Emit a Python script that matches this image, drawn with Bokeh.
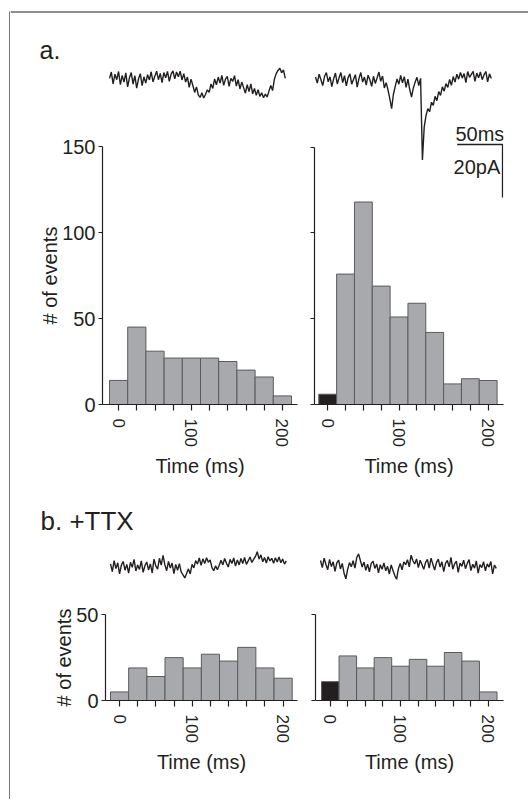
from bokeh.plotting import figure
from bokeh.models import Range1d, FixedTicker, ColumnDataSource
from bokeh.layouts import row, column
from bokeh.embed import file_html
from bokeh.resources import INLINE
from bokeh.core.properties import value

FONT = "Liberation Sans"
INK = "#231f20"
BAR_FILL = "#a7a9ac"
BAR_LINE = "#5a5b5d"

# ---------------- data ----------------
bin_index = list(range(10))
x_tick_labels = ["0", "", "", "", "100", "", "", "", "", "200"]
y_ticks_a = [0, 50, 100, 150]
y_ticks_b = [0, 50]

counts_a_spont = [14, 45, 31, 27, 27, 27, 25, 20, 16, 5]
counts_a_evoked = [6, 76, 118, 69, 51, 59, 42, 12, 15, 14]
counts_b_spont = [5, 19, 14, 25, 19, 27, 23, 31, 19, 13]
counts_b_evoked = [11, 26, 19, 25, 20, 24, 20, 28, 23, 5]

trace_t_ms = list(range(0, 196, 2))
trace_a_spont = [
    0.8, 3.2, -1.3, 2.4, 0.3, 3.4, -1.6, 1.9, -0.6, 2.9,
    -2.4, 1.0, 3.0, -1.4, 1.8, -2.9, 0.6, 2.6, -1.9, 1.4,
    -1.0, 2.2, 0.2, 3.3, -0.5, 1.6, 3.5, 0.3, 2.7, -0.8,
    3.0, 1.0, 3.4, -0.3, 2.4, 3.6, 0.6, 3.2, 1.4, 3.5,
    0.2, 2.6, -0.6, 1.3, -2.6, 0.5, -1.9, -4.5, -2.4, -5.4,
    -6.4, -4.6, -6.6, -5.2, -3.5, -4.5, -1.3, -3.0, 0.6, -1.6,
    1.3, -1.0, 1.9, -1.8, 0.5, 1.6, -2.2, 0.8, -0.3, 1.8,
    -2.1, 0.3, -3.2, -0.6, -2.7, -4.8, -1.6, -4.2, -1.3, -5.0,
    -3.0, -5.6, -3.5, -6.0, -4.6, -6.5, -5.1, -6.2, -4.0, -1.9,
    -3.8, 0.5, 2.6, 3.8, 4.6, 2.9, 4.0, 0.8]
trace_a_evoked = [
    1.3, -1.0, 2.4, 0.3, -1.9, 1.6, 3.0, -0.5, 1.4, -2.3,
    0.6, 2.8, -1.3, 1.0, 3.0, -0.8, 1.8, -2.0, 1.1, 2.5,
    -1.4, 0.5, 2.2, -2.5, 0.8, 3.0, -0.6, 1.3, -1.7, 2.0,
    0.3, -2.2, 1.6, -1.1, 1.0, 3.2, -0.3, 1.7, -2.8, -0.8,
    -3.5, -6.8, -10.6, -5.2, -2.2, 0.6, -1.4, 1.9, -0.9, 1.4,
    -2.6, 0.5, -3.4, -6.3, -2.8, -0.6, 1.2, -1.9, 0.8, -30.0,
    -17.5, -13.2, -10.6, -11.8, -8.2, -9.4, -6.0, -7.6, -4.2, -5.6,
    -2.4, -4.0, -1.2, -2.6, 0.4, -1.8, 1.5, -0.6, 2.4, 0.5,
    3.0, 0.9, 2.6, -0.8, 3.4, 1.2, 2.3, 3.4, -0.3, 2.8,
    1.0, 3.2, 0.3, 2.1, 3.4, -0.5, 2.5, 0.8]
trace_b_spont = [
    1.0, -1.9, 2.2, -0.8, 1.4, -2.8, 0.5, 1.9, -1.4, 0.8,
    -2.5, 1.6, -0.3, 2.7, -1.7, 0.6, -1.1, 2.1, -2.2, 0.3,
    1.7, -1.3, 1.0, -2.4, 2.8, 0.2, -1.0, 3.1, 0.5, 4.2,
    0.6, -1.6, 1.9, -0.6, 1.3, -2.7, 0.8, -1.4, 1.1, -2.0,
    -3.2, -4.3, -2.6, -0.9, -2.8, 0.8, -0.5, 2.2, 0.9, 3.2,
    0.4, 2.9, 1.1, 3.3, 1.6, 2.5, -0.4, -1.6, 0.3, -1.2,
    0.5, 2.4, 0.6, 3.0, 1.2, -0.2, 2.7, 1.1, 3.2, 0.2,
    2.5, 0.6, 3.0, 1.1, 3.4, 0.8, 2.1, 3.6, 1.5, 2.7,
    3.8, 5.6, 2.8, 4.4, 1.8, 3.4, 1.3, 3.7, 2.1, 3.1,
    1.2, 3.3, 1.7, 3.6, 1.4, 2.8, 0.9, 2.1]
trace_b_evoked = [
    1.9, -0.8, 2.8, 0.4, -1.6, 2.3, -0.4, 1.4, -2.2, 1.0,
    2.0, -1.3, 0.8, -2.9, -5.0, -1.4, 1.1, -0.5, 1.8, -1.0,
    3.0, 4.4, 1.9, -0.6, 1.3, -1.8, 0.5, -2.4, 0.8, 1.6,
    -1.1, 0.6, -2.8, 0.3, -1.4, 1.0, -2.0, -0.3, -3.2, 0.2,
    -1.9, -3.8, -5.2, -1.2, 0.8, -1.6, 1.4, 0.3, 2.2, -0.5,
    3.9, 1.8, 0.6, 2.5, -0.8, 2.0, 0.3, -1.4, 1.2, 2.3,
    -1.0, 2.8, 0.5, -1.7, 1.1, 2.4, -0.6, 1.4, -2.3, 0.8,
    1.9, -0.5, 3.1, -1.4, 0.6, 1.6, -2.6, 0.9, -0.3, 2.0,
    -1.2, 0.8, 2.2, -1.9, 0.5, -1.0, 1.7, -2.9, 0.3, -0.8,
    1.4, -2.0, 0.6, -0.6, 1.5, -3.2, 0.2, -1.1]

scale_ms = 50
scale_pA = 20

# ---------------- layout constants (page pixels, origin top-left) ----------------
PX_PER_MS = 0.906
PX_PER_PA = 2.65
W_TOTAL = 528
BORDER_W = 10
CONTENT_W = W_TOTAL - BORDER_W
H_TOTAL = 799
HDR_A_H = 66
ROW_A_H = 414
HDR_B_H = 64
ROW_B_H = H_TOTAL - HDR_A_H - ROW_A_H - HDR_B_H

A_TOP = HDR_A_H
B_TOP = HDR_A_H + ROW_A_H + HDR_B_H

# left panels: trace strip on top, histogram figure below (split at 'split')
G_A_LEFT = dict(left=10, right=300, top=A_TOP, split=120, bottom=A_TOP + ROW_A_H, yaxis_x=102,
                bar0=109.0, pitch=18.2, xaxis_end=297, ytop=146, y0=404, ppc=1.72,
                trace_x0=109, base=80)
G_A_RIGHT = dict(left=300, right=W_TOTAL, top=A_TOP, bottom=A_TOP + ROW_A_H, yaxis_x=314,
                 bar0=318.3, pitch=17.83, xaxis_end=503, y0=404, ppc=1.716, trace_x0=315, base=80)
G_B_LEFT = dict(left=10, right=300, top=B_TOP, split=598, bottom=H_TOTAL, yaxis_x=105,
                bar0=110.0, pitch=18.17, xaxis_end=297, ytop=614, y0=700, ppc=1.714,
                trace_x0=110, base=566)
G_B_RIGHT = dict(left=300, right=W_TOTAL, top=B_TOP, bottom=H_TOTAL, yaxis_x=315, bar0=321.0,
                 pitch=17.55, xaxis_end=503, y0=700, ppc=1.714, trace_x0=320, base=565)


def style_axes(p, yticks, show_ylabels):
    xa = p.xaxis[0]
    xa.ticker = FixedTicker(ticks=bin_index)
    xa.major_label_overrides = {i: lab for i, lab in zip(bin_index, x_tick_labels)}
    xa.major_label_orientation = "vertical"
    xa.major_tick_out = 6
    xa.major_tick_in = 0
    xa.minor_tick_out = 0
    xa.minor_tick_in = 0
    xa.major_label_standoff = 8
    xa.major_label_text_font = FONT
    xa.major_label_text_font_size = "17px"
    xa.major_label_text_color = INK
    xa.axis_label = "Time (ms)"
    xa.axis_label_text_font = FONT
    xa.axis_label_text_font_size = "20px"
    xa.axis_label_text_font_style = "normal"
    xa.axis_label_text_color = INK
    xa.axis_label_standoff = 5
    xa.axis_line_color = INK
    xa.axis_line_width = 1.2
    xa.major_tick_line_color = INK
    xa.major_tick_line_width = 1.2

    ya = p.yaxis[0]
    ya.ticker = FixedTicker(ticks=yticks)
    ya.bounds = (0, yticks[-1])
    ya.major_tick_out = 4
    ya.major_tick_in = 0
    ya.minor_tick_out = 0
    ya.minor_tick_in = 0
    ya.major_label_standoff = 3
    ya.major_label_text_font = FONT
    ya.major_label_text_font_size = "20px"
    ya.major_label_text_color = INK
    ya.axis_line_color = INK
    ya.axis_line_width = 1.2
    ya.major_tick_line_color = INK
    ya.major_tick_line_width = 1.2
    if show_ylabels:
        ya.axis_label = "# of events"
        ya.axis_label_text_font = FONT
        ya.axis_label_text_font_size = "20px"
        ya.axis_label_text_font_style = "normal"
        ya.axis_label_text_color = INK
        ya.axis_label_standoff = -2
    else:
        ya.major_label_overrides = {t: "" for t in yticks}
        ya.major_label_text_font_size = "0px"


def plain_fig(w, h, xr=None, yr=None):
    p = figure(width=w, height=h, title=None,
               x_range=xr if xr is not None else Range1d(0, w),
               y_range=yr if yr is not None else Range1d(0, h),
               output_backend="svg", toolbar_location=None, x_axis_type=None, y_axis_type=None,
               min_border=0, min_border_left=0, min_border_right=0, min_border_top=0, min_border_bottom=0)
    p.xgrid.visible = False
    p.ygrid.visible = False
    p.outline_line_color = None
    return p


def add_bars(p, counts, stim_black):
    colors = [INK if (stim_black and i == 0) else BAR_FILL for i in bin_index]
    src = ColumnDataSource(dict(x=bin_index, top=counts, color=colors))
    p.vbar(x="x", top="top", bottom=0, width=1, fill_color="color",
           line_color=BAR_LINE, line_width=1, source=src)


def hist_fig(g, fig_top, frame_top, counts, stim_black):
    fig_w = g["right"] - g["left"]
    fig_h = g["bottom"] - fig_top
    frame_w = g["xaxis_end"] - g["yaxis_x"]
    frame_h = g["y0"] - frame_top
    x0 = -0.5 - (g["bar0"] - g["yaxis_x"]) / g["pitch"]
    x1 = x0 + frame_w / g["pitch"]
    y1 = frame_h / g["ppc"]
    p = figure(width=fig_w, height=fig_h, title=None,
               x_range=Range1d(x0, x1), y_range=Range1d(0, y1),
               output_backend="svg", toolbar_location=None,
               min_border_left=int(round(g["yaxis_x"] - g["left"])),
               min_border_right=int(round(g["right"] - g["xaxis_end"])),
               min_border_top=int(round(frame_top - fig_top)),
               min_border_bottom=int(round(g["bottom"] - g["y0"])))
    p.xgrid.visible = False
    p.ygrid.visible = False
    p.outline_line_color = None
    p.background_fill_color = "white"
    p.border_fill_color = "white"
    add_bars(p, counts, stim_black)
    return p


def trace_ranges(g, frame_left, frame_right, frame_top, frame_bottom):
    t0 = (frame_left - g["trace_x0"]) / PX_PER_MS
    t1 = (frame_right - g["trace_x0"]) / PX_PER_MS
    pa_top = (g["base"] - frame_top) / PX_PER_PA
    pa_bot = (g["base"] - frame_bottom) / PX_PER_PA
    return Range1d(t0, t1), Range1d(pa_bot, pa_top)


def left_panel(counts, trace, g, yticks):
    # trace strip; its frame is aligned by the column with the histogram frame below
    xr, yr = trace_ranges(g, g["yaxis_x"], g["xaxis_end"], g["top"], g["split"])
    tp = plain_fig(g["right"] - g["left"], g["split"] - g["top"], xr, yr)
    tp.line(trace_t_ms[:len(trace)], trace, line_color=INK, line_width=1.4)
    hp = hist_fig(g, g["split"], g["ytop"], counts, False)
    style_axes(hp, yticks, True)
    return column(tp, hp)


def right_panel(counts, trace, g, yticks, scale_bar=False):
    p = hist_fig(g, g["top"], g["top"], counts, True)
    xr, yr = trace_ranges(g, g["yaxis_x"], g["xaxis_end"], g["top"], g["y0"])
    p.extra_x_ranges = {"t": xr}
    p.extra_y_ranges = {"pA": yr}
    p.line(trace_t_ms[:len(trace)], trace, x_range_name="t", y_range_name="pA",
           line_color=INK, line_width=1.4)
    if scale_bar:
        sb_t0 = (456.7 - g["trace_x0"]) / PX_PER_MS
        sb_pa = (g["base"] - 144) / PX_PER_PA
        p.line([sb_t0, sb_t0 + scale_ms, sb_t0 + scale_ms],
               [sb_pa, sb_pa, sb_pa - scale_pA],
               x_range_name="t", y_range_name="pA", line_color=INK, line_width=1.3)
        p.text(x=[sb_t0 + scale_ms / 2], y=[sb_pa + 4.1], text=[f"{scale_ms}ms"],
               x_range_name="t", y_range_name="pA",
               text_font=value(FONT), text_font_size="20px", text_color=INK,
               text_align="center", text_baseline="middle")
        p.text(x=[sb_t0 + scale_ms - 2.5], y=[sb_pa - scale_pA / 2 + 1.5], text=[f"{scale_pA}pA"],
               x_range_name="t", y_range_name="pA",
               text_font=value(FONT), text_font_size="20px", text_color=INK,
               text_align="right", text_baseline="middle")
    style_axes(p, yticks, False)
    return p


def header(text, h, tx, middle_from_top, font_size, top_border_from_top=None):
    p = plain_fig(CONTENT_W, h)
    if top_border_from_top is not None:
        yb = h - top_border_from_top
        p.line([0, CONTENT_W], [yb, yb], line_color=INK, line_width=1.2)
    p.text(x=[tx], y=[h - middle_from_top], text=[text], text_font=value(FONT),
           text_font_size=font_size, text_color=INK, text_align="left", text_baseline="middle")
    return p


border = plain_fig(BORDER_W, H_TOTAL)
border.line([9.5, 9.5], [H_TOTAL - 11.0, 0], line_color=INK, line_width=1.2)

hdr_a = header("a.", HDR_A_H, 29, 49.3, "25px", top_border_from_top=11.5)
hdr_b = header("b. +TTX", HDR_B_H, 30, 520.3 - (HDR_A_H + ROW_A_H), "26px")

pa_l = left_panel(counts_a_spont, trace_a_spont, G_A_LEFT, y_ticks_a)
pa_r = right_panel(counts_a_evoked, trace_a_evoked, G_A_RIGHT, y_ticks_a, scale_bar=True)
pb_l = left_panel(counts_b_spont, trace_b_spont, G_B_LEFT, y_ticks_b)
pb_r = right_panel(counts_b_evoked, trace_b_evoked, G_B_RIGHT, y_ticks_b)

layout = row(border, column(hdr_a, row(pa_l, pa_r), hdr_b, row(pb_l, pb_r)))

open("out.html", "w").write(file_html(layout, INLINE))
